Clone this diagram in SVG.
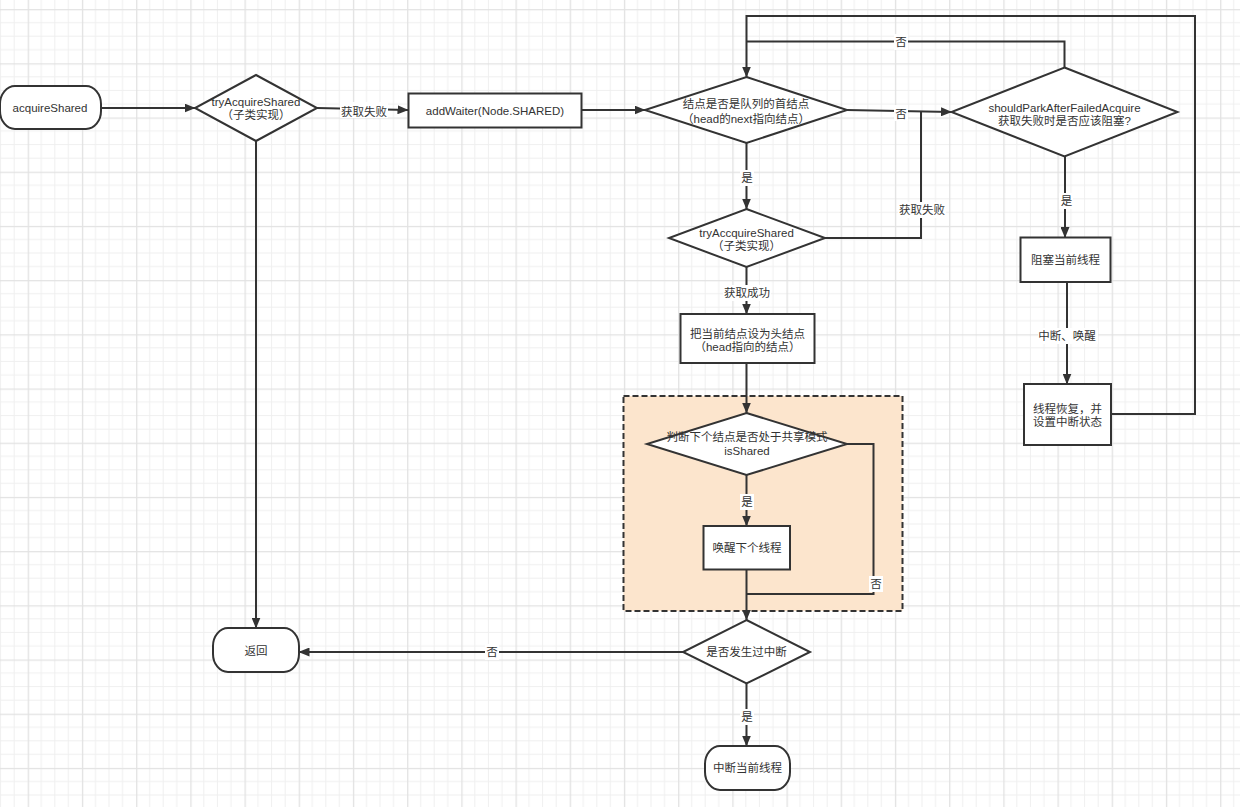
<svg xmlns="http://www.w3.org/2000/svg" width="1240" height="807" viewBox="0 0 1240 807">
<style>
.n{fill:#fff;stroke:#333;stroke-width:2}
.t{font-family:"Liberation Sans","Noto Sans CJK SC",sans-serif;font-size:11.5px;fill:#333;text-anchor:middle}
.c{fill:none;stroke:#333;stroke-width:2}
.lb{fill:#fff}
</style>
<defs>
<pattern id="grid" x="27.7" y="9.1" width="54.2" height="54.2" patternUnits="userSpaceOnUse">
<path d="M13.55 0V54.2M27.1 0V54.2M40.65 0V54.2M0 13.55H54.2M0 27.1H54.2M0 40.65H54.2" stroke="#efefef" stroke-width="1"/>
<path d="M0 0V54.2M0 0H54.2" stroke="#e2e2e2" stroke-width="2.6"/>
</pattern>
<marker id="ah" markerUnits="userSpaceOnUse" markerWidth="11" markerHeight="9" refX="10.5" refY="4.5" orient="auto">
<path d="M0,0 L11,4.5 L0,9 Z" fill="#333"/>
</marker>
</defs>
<rect width="1240" height="807" fill="#fff"/>
<rect width="1240" height="807" fill="url(#grid)"/>

<g id="group-shared">
<rect x="623.5" y="396" width="279" height="215" fill="#fce5cd" stroke="#333" stroke-width="2" stroke-dasharray="6 3"/>
</g>

<g id="connectors">
<path class="c" d="M101,108 H195" marker-end="url(#ah)"/>
<path class="c" d="M317,108 L408,110" marker-end="url(#ah)"/>
<path class="c" d="M582,110 H645" marker-end="url(#ah)"/>
<path class="c" d="M1064.5,67.5 V41.5 H746.5"/>
<path class="c" d="M1111,414 H1195 V16 H746.5 V77" marker-end="url(#ah)"/>
<path class="c" d="M846.5,110 L951.5,112" marker-end="url(#ah)"/>
<path class="c" d="M825,238 H921 V112"/>
<path class="c" d="M746.5,143 V209" marker-end="url(#ah)"/>
<path class="c" d="M746.5,267 V314" marker-end="url(#ah)"/>
<path class="c" d="M746.5,363 V413" marker-end="url(#ah)"/>
<path class="c" d="M746.5,475 V526" marker-end="url(#ah)"/>
<path class="c" d="M746.5,569.5 V620" marker-end="url(#ah)"/>
<path class="c" d="M847,444 H873.5 V594 H746.5"/>
<path class="c" d="M683,652 H299" marker-end="url(#ah)"/>
<path class="c" d="M746.5,683.5 V746" marker-end="url(#ah)"/>
<path class="c" d="M256,141 V628" marker-end="url(#ah)"/>
<path class="c" d="M1065,156.5 V237.5" marker-end="url(#ah)"/>
<path class="c" d="M1067,282 V384" marker-end="url(#ah)"/>

<rect class="lb" x="340" y="102" width="48" height="16"/>
<text class="t" x="364" y="115.5">获取失败</text>
<rect class="lb" x="894" y="34" width="14" height="16"/>
<text class="t" x="901" y="46">否</text>
<rect class="lb" x="894" y="105" width="14" height="16"/>
<text class="t" x="901" y="117.5">否</text>
<rect class="lb" x="898" y="202" width="48" height="16"/>
<text class="t" x="922" y="214">获取失败</text>
<rect class="lb" x="740" y="170" width="14" height="16"/>
<text class="t" x="747" y="182">是</text>
<rect class="lb" x="723" y="285" width="48" height="16"/>
<text class="t" x="747" y="297">获取成功</text>
<rect class="lb" x="740" y="494" width="14" height="16"/>
<text class="t" x="747" y="506">是</text>
<rect class="lb" x="869" y="576" width="14" height="16"/>
<text class="t" x="876" y="588">否</text>
<rect class="lb" x="485" y="644" width="14" height="16"/>
<text class="t" x="492" y="656">否</text>
<rect class="lb" x="740" y="709" width="14" height="16"/>
<text class="t" x="747" y="721">是</text>
<rect class="lb" x="1059" y="193" width="14" height="16"/>
<text class="t" x="1066.5" y="205">是</text>
<rect class="lb" x="1038" y="328" width="60" height="16"/>
<text class="t" x="1067" y="340">中断、唤醒</text>
</g>

<g id="acquireShared">
<rect class="n" x="0" y="86" width="101" height="43" rx="15" ry="18"/>
<text class="t" x="50" y="112">acquireShared</text>
</g>
<g id="tryAcquireShared">
<polygon class="n" points="256,75 317,108 256,141 195,108"/>
<text class="t" x="256" y="105.5">tryAcquireShared</text>
<text class="t" x="256" y="118.5">（子类实现）</text>
</g>
<g id="addWaiter">
<rect class="n" x="408.5" y="93.5" width="173" height="34"/>
<text class="t" x="495" y="115">addWaiter(Node.SHARED)</text>
</g>
<g id="isFirst">
<polygon class="n" points="746.5,77 847,110 746.5,143 645,110"/>
<text class="t" x="746" y="108">结点是否是队列的首结点</text>
<text class="t" x="746" y="122.5">（head的next指向结点）</text>
</g>
<g id="shouldPark">
<polygon class="n" points="1064.5,67.5 1177.5,112 1064.5,156.5 951.5,112"/>
<text class="t" x="1064.5" y="111.5">shouldParkAfterFailedAcquire</text>
<text class="t" x="1064.5" y="124.5">获取失败时是否应该阻塞?</text>
</g>
<g id="tryAccquireShared">
<polygon class="n" points="746.5,209 825,238 746.5,267 669,238"/>
<text class="t" x="746.5" y="236.5">tryAccquireShared</text>
<text class="t" x="746.5" y="250">（子类实现）</text>
</g>
<g id="park">
<rect class="n" x="1020.5" y="237.5" width="90" height="44.5"/>
<text class="t" x="1065.5" y="264">阻塞当前线程</text>
</g>
<g id="resume">
<rect class="n" x="1024" y="384" width="87" height="61"/>
<text class="t" x="1067.5" y="413">线程恢复，并</text>
<text class="t" x="1067.5" y="425.5">设置中断状态</text>
</g>
<g id="setHead">
<rect class="n" x="680.5" y="314" width="134" height="49"/>
<text class="t" x="747.5" y="337.5">把当前结点设为头结点</text>
<text class="t" x="747.5" y="351">（head指向的结点）</text>
</g>
<g id="isShared">
<polygon class="n" points="746.5,413 847,444 746.5,475 647,444"/>
<text class="t" x="747" y="441">判断下个结点是否处于共享模式</text>
<text class="t" x="747" y="455">isShared</text>
</g>
<g id="wakeNext">
<rect class="n" x="703.5" y="526" width="86.5" height="43.5"/>
<text class="t" x="747" y="552">唤醒下个线程</text>
</g>
<g id="interrupted">
<polygon class="n" points="746.5,620 810,652 746.5,683.5 683,652"/>
<text class="t" x="746.5" y="656">是否发生过中断</text>
</g>
<g id="return">
<rect class="n" x="213" y="628" width="86" height="44" rx="15" ry="18"/>
<text class="t" x="256" y="655">返回</text>
</g>
<g id="selfInterrupt">
<rect class="n" x="705" y="746" width="85" height="44" rx="15" ry="18"/>
<text class="t" x="747.5" y="772">中断当前线程</text>
</g>
</svg>
